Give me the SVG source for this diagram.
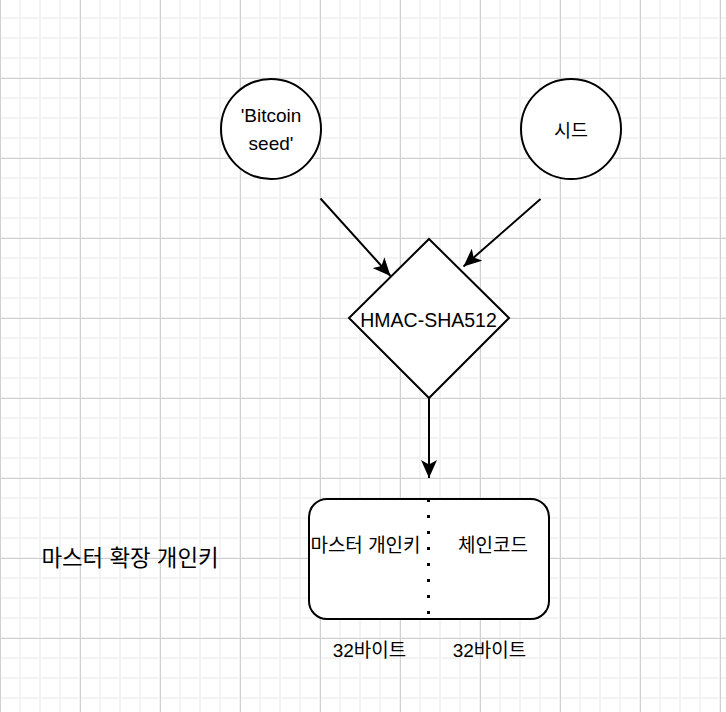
<svg xmlns="http://www.w3.org/2000/svg" width="726" height="712" viewBox="0 0 726 712">
<style>
.shape{fill:#ffffff;stroke:#000000;stroke-width:2}
.lbl{font-family:"Liberation Sans","Noto Sans CJK KR",sans-serif;fill:#000000;text-anchor:middle}
.edge{fill:none;stroke:#000000;stroke-width:2}
</style>
<defs>
<pattern id="minor" patternUnits="userSpaceOnUse" x="-1" y="-3" width="20" height="20">
<rect x="0" y="0" width="2" height="20" fill="#f3f3f3"/>
<rect x="0" y="0" width="20" height="2" fill="#f3f3f3"/>
</pattern>
<pattern id="major" patternUnits="userSpaceOnUse" x="0" y="-2" width="80" height="80">
<rect x="0" y="0" width="1" height="80" fill="#d0d0d0"/>
<rect x="0" y="0" width="80" height="1" fill="#d0d0d0"/>
</pattern>
<marker id="arrow" markerUnits="userSpaceOnUse" viewBox="0 0 18 16" refX="18" refY="8" markerWidth="18" markerHeight="16" orient="auto">
<path d="M0,0 L18,8 L0,16 L4.5,8 Z" fill="#000000"/>
</marker>
</defs>
<rect width="726" height="712" fill="#ffffff"/>
<rect width="726" height="712" fill="url(#minor)"/>
<rect width="726" height="712" fill="url(#major)"/>

<g id="connectors">
<line class="edge" x1="320.5" y1="198.5" x2="390.5" y2="276" marker-end="url(#arrow)"/>
<line class="edge" x1="540.5" y1="199" x2="463.5" y2="266.5" marker-end="url(#arrow)"/>
<line class="edge" x1="429" y1="398" x2="429" y2="478" marker-end="url(#arrow)"/>
</g>

<g id="bitcoin-seed">
<circle class="shape" cx="271" cy="129" r="50"/>
<text class="lbl" font-size="19" x="271" y="122">'Bitcoin</text>
<text class="lbl" font-size="19" x="271" y="150">seed'</text>
</g>

<g id="seed">
<circle class="shape" cx="571" cy="129" r="50"/>
<text class="lbl" font-size="18.5" x="571" y="137">시드</text>
</g>

<g id="hmac">
<polygon class="shape" points="429,239 509,318 429,398 349,318"/>
<text class="lbl" font-size="19.5" x="428.5" y="327">HMAC-SHA512</text>
</g>

<g id="master-extended-key">
<rect class="shape" x="309" y="499" width="240" height="120" rx="18" ry="18"/>
<line x1="428.5" y1="499" x2="428.5" y2="619" stroke="#000000" stroke-width="3" stroke-dasharray="3 13"/>
<text class="lbl" font-size="19" x="365.5" y="552">마스터 개인키</text>
<text class="lbl" font-size="19" x="493" y="552">체인코드</text>
</g>

<g id="bytes-left">
<text class="lbl" font-size="19" x="369.5" y="657">32바이트</text>
</g>
<g id="bytes-right">
<text class="lbl" font-size="19" x="489.5" y="657">32바이트</text>
</g>

<g id="title">
<text class="lbl" font-size="22.4" x="130" y="566">마스터 확장 개인키</text>
</g>
</svg>
